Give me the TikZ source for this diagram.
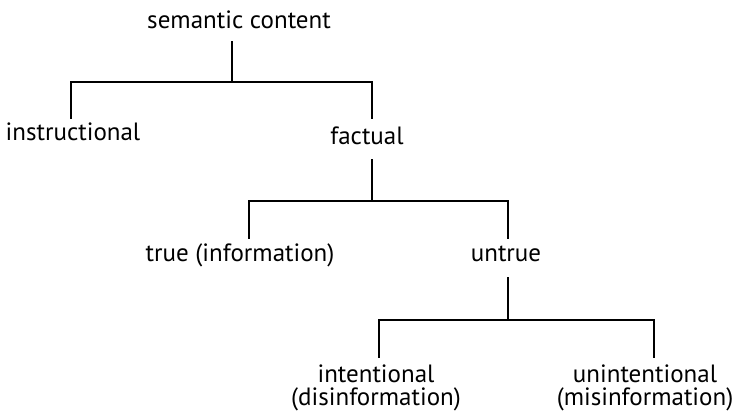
\documentclass[tikz,border=0pt]{standalone}
\usepackage{fontspec}
\setmainfont{PT Sans}
\begin{document}
\begin{tikzpicture}[x=1pt,y=-1pt,
  lbl/.style={inner sep=0pt, anchor=base, font=\fontsize{25}{23}\selectfont, align=center},
  edge/.style={line width=1.6pt, line cap=rect}]
\useasboundingbox (0,0) rectangle (736,418);
% labels
\node[lbl] (sc) at (239,28) {semantic content};
\node[lbl] (inst) at (73,140) {instructional};
\node[lbl] (fact) at (367,144) {factual};
\node[lbl] (tru) at (240,261) {true (information)};
\node[lbl] (untr) at (506,261) {untrue};
\node[lbl] (intent) at (376,405) {intentional\\(disinformation)};
\node[lbl] (unint) at (645,405) {unintentional\\(misinformation)};
% junction coordinates
\coordinate (sc1) at (232,42);
\coordinate (sc2) at (232,82);
\coordinate (instT) at (71,118);
\coordinate (instJ) at (71,82);
\coordinate (factJ) at (372,82);
\coordinate (factT) at (372,118);
\coordinate (f1) at (372,160);
\coordinate (f2) at (372,201);
\coordinate (truT) at (249,238);
\coordinate (truJ) at (249,201);
\coordinate (untrJ) at (508,201);
\coordinate (untrT) at (508,238);
\coordinate (u1) at (508,278);
\coordinate (u2) at (508,320);
\coordinate (intentT) at (379,357);
\coordinate (intentJ) at (379,320);
\coordinate (unintJ) at (654,320);
\coordinate (unintT) at (654,357);
% connectors
\draw[edge] (sc1) -- (sc2);
\draw[edge] (instT) -- (instJ) -- (factJ) -- (factT);
\draw[edge] (f1) -- (f2);
\draw[edge] (truT) -- (truJ) -- (untrJ) -- (untrT);
\draw[edge] (u1) -- (u2);
\draw[edge] (intentT) -- (intentJ) -- (unintJ) -- (unintT);
\end{tikzpicture}
\end{document}
